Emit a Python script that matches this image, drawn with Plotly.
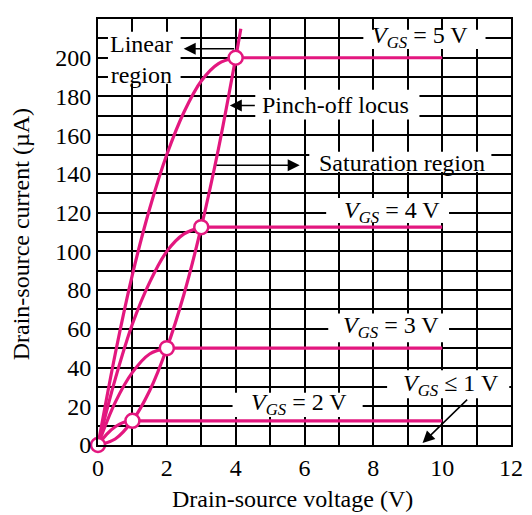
import plotly.graph_objects as go

# ---- data ----
PINK = "#E3177F"

vgs5_vds = [0, 0.5, 1, 1.5, 2, 2.5, 3, 3.5, 4]
vgs5_ids = [0, 47, 88, 122, 150, 172, 188, 197, 200]
vgs4_vds = [0, 0.5, 1, 1.5, 2, 2.5, 3]
vgs4_ids = [0, 34, 62.5, 84, 100, 109, 112.5]
vgs3_vds = [0, 0.5, 1, 1.5, 2]
vgs3_ids = [0, 22, 37.5, 47, 50]
vgs2_vds = [0, 0.25, 0.5, 0.75, 1]
vgs2_ids = [0, 5.5, 9.4, 11.7, 12.5]

sat_vds_start = [4, 3, 2, 1]
sat_vds_end = [10, 10, 10, 10]
sat_ids = [200, 112.5, 50, 12.5]

locus_vds = [0, 0.5, 1, 1.5, 2, 2.5, 3, 3.5, 4, 4.15]
locus_ids = [0, 3.1, 12.5, 28, 50, 78, 112.5, 153, 200, 215]

pinch_vds = [0, 1, 2, 3, 4]
pinch_ids = [0, 12.5, 50, 112.5, 200]

FONT = "Liberation Serif"
FS = 24
GRIDW = 1.7

fig = go.Figure()

line = dict(color=PINK, width=3.2)
for xs, ys in [(vgs5_vds, vgs5_ids), (vgs4_vds, vgs4_ids), (vgs3_vds, vgs3_ids),
               (vgs2_vds, vgs2_ids), (locus_vds, locus_ids)]:
    fig.add_trace(go.Scatter(x=xs, y=ys, mode="lines",
                             line=dict(color=PINK, width=3.2, shape="spline", smoothing=1.0),
                             hoverinfo="skip", cliponaxis=False))
for x0, x1, yv in zip(sat_vds_start, sat_vds_end, sat_ids):
    fig.add_trace(go.Scatter(x=[x0, x1], y=[yv, yv], mode="lines", line=line, hoverinfo="skip"))

fig.add_trace(go.Scatter(x=pinch_vds, y=pinch_ids, mode="markers",
                         marker=dict(size=14, color="white", line=dict(color=PINK, width=2.5)),
                         cliponaxis=False, hoverinfo="skip"))

def label(text, x, y, box):
    # white patch hiding the grid behind the label (drawn under the curves)
    bx0, bx1, by0, by1 = box
    fig.add_shape(type="rect", xref="x", yref="y", x0=bx0, x1=bx1, y0=by0, y1=by1,
                  fillcolor="white", line=dict(width=0), layer="between")
    fig.add_annotation(x=x, y=y, xref="x", yref="y", text=text, showarrow=False,
                       font=dict(family=FONT, size=FS, color="black"))

def arrow(x, y, ax, ay):
    fig.add_annotation(x=x, y=y, ax=ax, ay=ay, xref="x", yref="y", axref="x", ayref="y",
                       text="", showarrow=True, arrowhead=2, arrowsize=1.6, arrowwidth=1.5,
                       arrowcolor="black")

label("Linear<br>region", 1.26, 199.0, (0.29, 2.4, 186.6, 213.4))
label("Pinch-off locus", 6.9, 175.8, (4.57, 9.34, 168.1, 183.5))
label("Saturation region", 8.84, 145.5, (6.14, 11.43, 141.0, 151.5))
label("<i>V</i><sub><i>GS</i></sub> = 5 V", 9.35, 210.5, (7.71, 11.26, 204.5, 214.5))
label("<i>V</i><sub><i>GS</i></sub> = 4 V", 8.54, 120.3, (6.63, 10.2, 114.7, 127.5))
label("<i>V</i><sub><i>GS</i></sub> = 3 V", 8.5, 61.0, (6.69, 10.2, 53.0, 67.9))
label("<i>V</i><sub><i>GS</i></sub> = 2 V", 5.85, 21.0, (3.91, 7.69, 14.5, 27.0))
label("<i>V</i><sub><i>GS</i></sub> ≤ 1 V", 10.26, 31.2, (8.4, 11.95, 24.2, 38.6))

arrow(2.49, 204.6, 4.0, 204.6)
arrow(3.83, 175.3, 4.6, 175.3)
arrow(5.86, 144.5, 3.4, 144.5)
arrow(9.43, 1.0, 10.77, 24.2)

fig.add_annotation(x=0.471, y=-0.126, xref="paper", yref="paper",
                   xanchor="center", yanchor="middle",
                   text="Drain-source voltage (V)", showarrow=False,
                   font=dict(family=FONT, size=FS, color="black"))
fig.add_annotation(x=-0.186, y=0.495, xref="paper", yref="paper", textangle=-90,
                   xanchor="center", yanchor="middle",
                   text="Drain-source current (µA)", showarrow=False,
                   font=dict(family=FONT, size=FS, color="black"))

axis_common = dict(showline=True, linecolor="black", linewidth=1.7, mirror=True,
                   showgrid=True, gridcolor="black", gridwidth=GRIDW, zeroline=False,
                   ticks="", tickfont=dict(family=FONT, size=FS, color="black"))
fig.update_xaxes(range=[0, 12], dtick=2, tick0=0,
                 minor=dict(dtick=1, showgrid=True, gridcolor="black", gridwidth=GRIDW),
                 **axis_common)
fig.update_yaxes(range=[0, 220], dtick=20, tick0=0,
                 minor=dict(dtick=10, showgrid=True, gridcolor="black", gridwidth=GRIDW),
                 **axis_common)

# page body has an 8px margin, so the figure is 8px smaller and offsets compensated
fig.update_layout(width=524, height=507, margin=dict(l=90, r=14, t=9, b=70),
                  showlegend=False, plot_bgcolor="white", paper_bgcolor="white")

fig.write_html("out.html")
